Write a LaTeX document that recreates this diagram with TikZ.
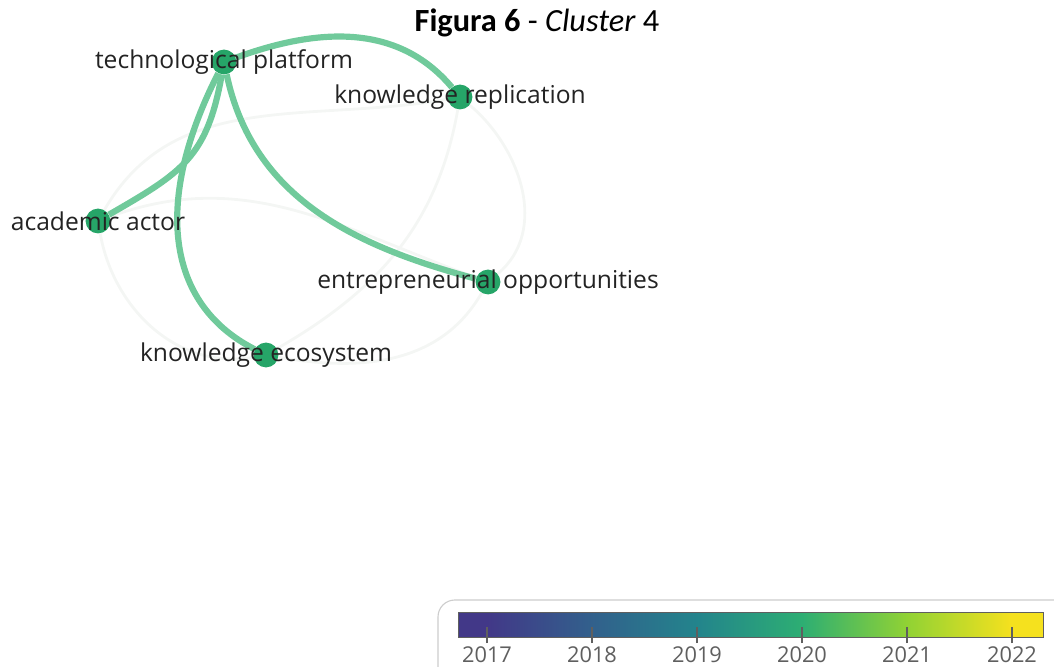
\documentclass[tikz,border=0pt]{standalone}
\usepackage{fontspec}
\setmainfont{Open Sans}
\newfontfamily\titlefont{Carlito}

\definecolor{linkgreen}{RGB}{112,202,155}
\definecolor{nodegreen}{RGB}{38,165,104}
\definecolor{faintgray}{RGB}{244,246,244}
\definecolor{labeltext}{RGB}{35,35,35}
\definecolor{tickgray}{RGB}{95,95,95}
\definecolor{boxgray}{RGB}{205,205,205}
\definecolor{vir1}{RGB}{66,56,136}
\definecolor{vir2}{RGB}{50,96,140}
\definecolor{vir3}{RGB}{35,132,140}
\definecolor{vir4}{RGB}{45,174,115}
\definecolor{vir5}{RGB}{145,210,52}
\definecolor{vir6}{RGB}{245,225,30}

\pgfdeclarehorizontalshading{viridis}{100bp}{%
  color(0bp)=(vir1); color(27.5bp)=(vir1); color(36.4bp)=(vir2);
  color(45.4bp)=(vir3); color(54.4bp)=(vir4); color(63.4bp)=(vir5);
  color(72.3bp)=(vir6); color(100bp)=(vir6)}

\pgfdeclarelayer{bg}
\pgfsetlayers{bg,main}

\begin{document}
\begin{tikzpicture}[x=0.025cm, y=0.025cm]

      \useasboundingbox (0,0) rectangle (1054,666);
      \clip (0,0) rectangle (1054,666);

      \node (title) at (537,643) {\titlefont\fontsize{23}{23}\selectfont
        \textbf{Figura 6} - \textit{Cluster} 4};

      \begin{scope}[every node/.style={circle, fill=nodegreen, draw=none,
          inner sep=0pt, minimum size=0.62cm}]
        \node (1) at (224,604) {};
        \node (2) at (460,569) {};
        \node (3) at (98,445)  {};
        \node (4) at (488,384) {};
        \node (5) at (266,311) {};
      \end{scope}

      \begin{pgfonlayer}{bg}
        % weak links
        \begin{scope}[every edge/.style={draw=faintgray, line width=2pt}]
          \path (3) edge[out=-80,  in=190] (5);
          \path (5) edge[out=-10,  in=-120] (4);
          \path (2) edge[out=-40,  in=40]  (4);
          \path (3) edge[out=20,   in=160] (4);
          \path (3) edge[out=60,   in=190] (2);
          \path (2) edge[out=-100, in=30]  (5);
        \end{scope}
        % strong links
        \begin{scope}[every edge/.style={draw=linkgreen, line width=4.4pt}]
          \path (1) edge[out=20,   in=130] (2);
          \path (1) edge[out=-100, in=30, looseness=1.2] (3);
          \path (1) edge[out=-78,  in=165] (4);
          \path (1) edge[out=-117, in=153, out looseness=1.3,
                         in looseness=0.93] (5);
        \end{scope}
      \end{pgfonlayer}

      \begin{scope}[every node/.style={text=labeltext, inner sep=1pt,
          font=\fontsize{17.5}{17.5}\selectfont}]
        \node (l1) at (1) {technological platform};
        \node (l2) at (2) {knowledge replication};
        \node (l3) at (3) {academic actor};
        \node (l4) at (4) {entrepreneurial opportunities};
        \node (l5) at (5) {knowledge ecosystem};
      \end{scope}

      % legend
      \draw[boxgray, line width=0.8pt, rounded corners=12pt]
        (438,-20) rectangle (1080,66);
      \shade[shading=viridis] (458,29) rectangle (1043,54);
      \draw[tickgray, line width=0.6pt] (458,29) rectangle (1043,54);
      \foreach \yr [count=\i from 0] in {2017,2018,2019,2020,2021,2022} {
        \draw[tickgray, line width=0.8pt] (487+105*\i,23) -- (487+105*\i,39);
        \node[text=tickgray, font=\fontsize{15.5}{15.5}\selectfont]
          (y\yr) at (487+105*\i,11) {\yr};
      }

    \end{tikzpicture}
\end{document}
